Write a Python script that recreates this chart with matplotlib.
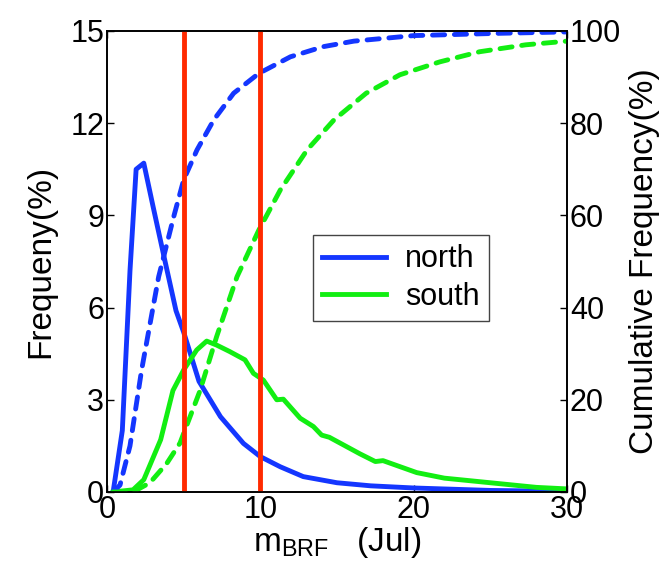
import matplotlib
matplotlib.use("Agg")
import matplotlib.pyplot as plt

plt.rcParams["font.family"] = ["Liberation Sans", "DejaVu Sans"]
plt.rcParams["mathtext.fontset"] = "custom"
plt.rcParams["mathtext.rm"] = "Liberation Sans"

# frequency (%) of m_BRF
north_x = [0.4, 1.0, 1.5, 1.9, 2.4, 3.0, 3.7, 4.5, 5.0, 6.0, 7.4, 8.9, 10.0,
           11.3, 12.8, 15.0, 17.2, 20.0, 25.0, 30.0]
north_y = [0.0, 2.0, 7.2, 10.5, 10.7, 9.3, 7.7, 5.9, 5.2, 3.6, 2.45, 1.58, 1.15,
           0.82, 0.5, 0.3, 0.2, 0.13, 0.05, 0.02]

south_x = [0.4, 1.7, 2.4, 3.5, 4.3, 5.0, 5.85, 6.5, 7.15, 8.0, 9.0, 9.55, 10.2,
           11.07, 11.5, 12.6, 13.46, 14.0, 14.5, 16.5, 17.5, 18.0, 20.2, 22.0,
           25.0, 28.0, 30.0]
south_y = [0.0, 0.07, 0.4, 1.7, 3.3, 3.97, 4.62, 4.91, 4.78, 4.57, 4.3, 3.86, 3.64,
           3.0, 3.02, 2.4, 2.13, 1.85, 1.78, 1.24, 0.99, 1.02, 0.63, 0.45,
           0.3, 0.15, 0.1]

# cumulative frequency (%)
north_cum_x = [0.4, 0.85, 1.5, 2.26, 3.0, 3.37, 4.35, 5.0, 5.87, 6.96, 8.26, 9.9,
               11.96, 14.1, 16.1, 20.0, 25.6, 30.0]
north_cum_y = [0.0, 1.5, 10.0, 26.5, 40.0, 46.7, 59.7, 67.7, 74.2, 80.7, 86.5, 90.8,
               94.4, 96.6, 97.8, 99.0, 99.5, 99.8]

south_cum_x = [0.4, 1.7, 2.8, 3.9, 4.76, 6.07, 7.15, 8.48, 9.9, 11.3, 13.05, 14.8,
               16.9, 19.1, 21.7, 24.3, 27.3, 30.0]
south_cum_y = [0.0, 0.0, 2.0, 6.2, 10.6, 22.0, 33.7, 46.7, 56.8, 65.5, 74.2, 80.7,
               86.5, 90.5, 93.3, 95.5, 97.0, 97.8]

marks = [5, 10]

BLUE = "#1436ff"
GREEN = "#12ee12"
RED = "#ff2a00"

fig = plt.figure(figsize=(6.67, 5.74), dpi=100)
ax = fig.add_axes([0.1604, 0.1429, 0.6897, 0.8031])
ax2 = ax.twinx()

dash = dict(lw=3.5, ls=(0, (2.5, 2.0)), dash_capstyle="round")
ax.plot(north_x, north_y, color=BLUE, lw=3.5, label="north")
ax.plot(south_x, south_y, color=GREEN, lw=3.5, label="south")
ax2.plot(north_cum_x, north_cum_y, color=BLUE, **dash)
ax2.plot(south_cum_x, south_cum_y, color=GREEN, **dash)
for m in marks:
    ax2.axvline(m, color=RED, lw=3.5)

ax.set_xlim(0, 30)
ax.set_ylim(0, 15)
ax2.set_ylim(0, 100)
ax.set_xticks([0, 10, 20, 30])
ax.set_yticks([0, 3, 6, 9, 12, 15])
ax2.set_yticks([0, 20, 40, 60, 80, 100])

fs = 22
ax.tick_params(direction="in", length=5, width=1, labelsize=fs, top=True, pad=2)
ax2.tick_params(direction="in", length=5, width=1, labelsize=fs, pad=2)
for a in (ax, ax2):
    for s in a.spines.values():
        s.set_linewidth(1.2)

ax.set_ylabel("Frequeny(%)", fontsize=24, labelpad=10)
ax2.set_ylabel("Cumulative Frequency(%)", fontsize=24, labelpad=6)
ax.set_xlabel(r"$\mathregular{m_{BRF}}$   (Jul)", fontsize=24, labelpad=0)

leg = ax.legend(loc="upper left", bbox_to_anchor=(0.448, 0.557), borderaxespad=0,
                fontsize=22, fancybox=False, framealpha=1, handlelength=2.1,
                borderpad=0.3, labelspacing=0.25, handletextpad=0.6)
leg.get_frame().set_edgecolor("#444444")
leg.get_frame().set_linewidth(1.0)
leg.set_zorder(5)

fig.savefig("out.png", dpi=100)
